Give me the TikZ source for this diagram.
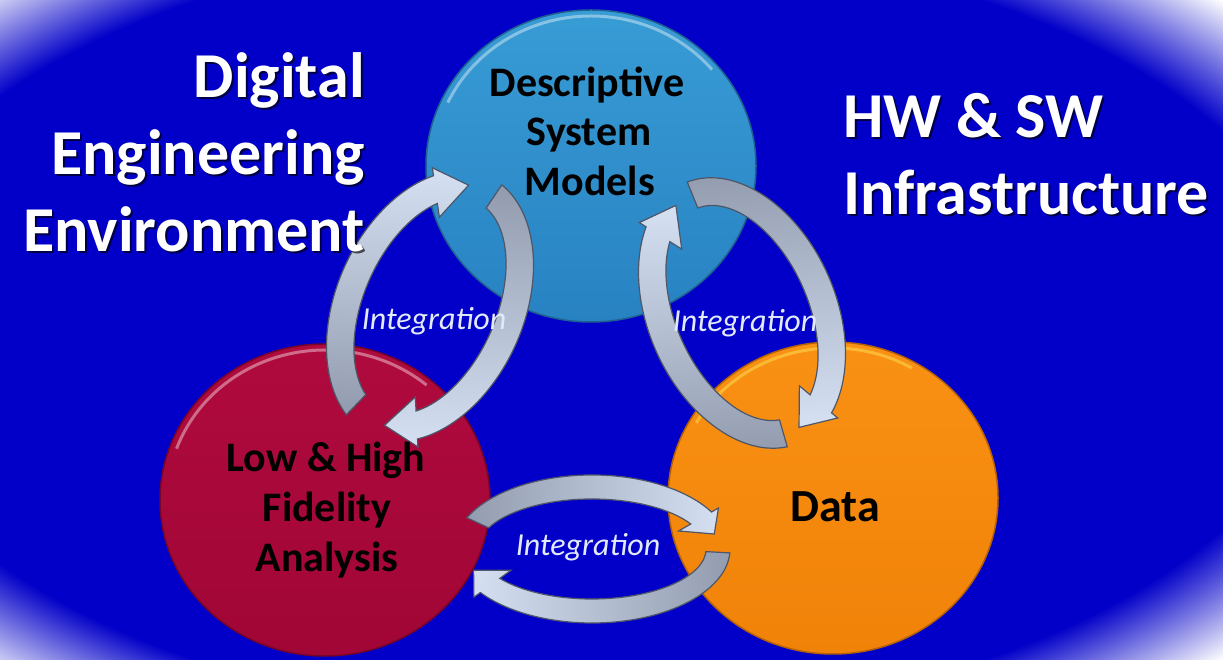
\documentclass[tikz,border=0pt]{standalone}
\usepackage{fontspec}
\setmainfont{Carlito}
\usetikzlibrary{shapes.geometric}
\definecolor{bgb}{RGB}{2,0,200}
\definecolor{cblueL}{RGB}{56,156,213}
\definecolor{cblueD}{RGB}{40,130,194}
\definecolor{credL}{RGB}{176,10,62}
\definecolor{credD}{RGB}{160,6,54}
\definecolor{corgL}{RGB}{249,145,20}
\definecolor{corgD}{RGB}{240,130,8}
\definecolor{arrlight}{RGB}{212,224,242}
\definecolor{arrdark}{RGB}{146,156,174}
\definecolor{arredge}{RGB}{78,86,104}
\definecolor{integ}{RGB}{226,234,250}
\pgfdeclareradialshading{vig}{\pgfpoint{0bp}{0bp}}{color(0bp)=(bgb); color(29bp)=(bgb); color(32bp)=(bgb!50!white); color(35bp)=(white); color(50bp)=(white)}
\def\aw{14}\def\hxo{8}\def\hxi{14}
\newcommand\carr[9]{%
 \pgfmathsetmacro\tb{#7+#8}%
 \pgfmathsetmacro\ao{#4+\aw}\pgfmathsetmacro\bo{#5+\aw}%
 \pgfmathsetmacro\ai{#4-\aw}\pgfmathsetmacro\bi{#5-\aw}%
 \pgfmathsetmacro\aho{#4+\aw+\hxo}\pgfmathsetmacro\bho{#5+\aw+\hxo}%
 \pgfmathsetmacro\ahi{#4-\aw-\hxi}\pgfmathsetmacro\bhi{#5-\aw-\hxi}%
 \begin{scope}[shift={(#1,#2)},rotate=#3]
 \draw[arrowline, top color=arrlight, bottom color=arrdark, shading angle=#9]
   ({\ao*cos(#6)},{\bo*sin(#6)}) arc[start angle=#6, end angle=\tb, x radius=\ao, y radius=\bo]
   -- ({\aho*cos(\tb)},{\bho*sin(\tb)}) -- ({#4*cos(#7)},{#5*sin(#7)})
   -- ({\ahi*cos(\tb)},{\bhi*sin(\tb)}) -- ({\ai*cos(\tb)},{\bi*sin(\tb)})
   arc[start angle=\tb, end angle=#6, x radius=\ai, y radius=\bi] -- cycle;
 \end{scope}}
\tikzset{
 arrowline/.style={draw=arredge, line width=1.2pt, line join=miter},
 circ/.style={ellipse, inner sep=0pt, minimum width=330pt, minimum height=312pt, line width=1.5pt},
 bigw/.style={font=\bfseries\fontsize{64}{77}\selectfont, text=white, inner sep=0pt},
 bigs/.style={font=\bfseries\fontsize{64}{77}\selectfont, text=black, opacity=0.65, inner sep=0pt},
 clab/.style={font=\bfseries\fontsize{42}{50}\selectfont, text=black, inner sep=0pt},
 intl/.style={font=\itshape\fontsize{32}{36}\selectfont, text=integ, inner sep=0pt},
 rim/.style={white, opacity=0.4, line width=3pt}
}
\begin{document}
\begin{tikzpicture}[x=1pt,y=1pt]
\useasboundingbox (0,0) rectangle (1223,660);
\fill[bgb] (0,0) rectangle (1223,660);
\fill[shading=vig] (-45,-6) rectangle (1223,666);
% circles
\node[circ, top color=cblueL, bottom color=cblueD, draw=cblueD!75!black] (dsm) at (591,494) {};
\node[circ, top color=credL, bottom color=credD, draw=credD!75!black] (lhf) at (325,160) {};
\node[circ, top color=corgL, bottom color=corgD, draw=corgD!75!black] (dat) at (833,162) {};
\draw[rim] ({591+158*cos(155)},{494+150*sin(155)}) arc[start angle=155, end angle=40, x radius=158, y radius=150];
\draw[rim] ({325+158*cos(160)},{160+150*sin(160)}) arc[start angle=160, end angle=50, x radius=158, y radius=150];
\draw[rim, yellow!60!white] ({833+158*cos(150)},{162+150*sin(150)}) arc[start angle=150, end angle=60, x radius=158, y radius=150];
% integration arrows: left loop
\carr{430}{354}{-24}{80}{128}{250}{100}{22}{-2}
\carr{430}{354}{-24}{80}{128}{80}{-85}{22}{178}
% right loop
\carr{742}{347}{24}{80}{128}{262}{102}{22}{3}
\carr{742}{347}{24}{80}{128}{88}{-86}{22}{-176}
% bottom loop
\def\aw{12}
\carr{592}{111}{0}{126}{62}{155}{14}{16}{-90}
\carr{592}{111}{0}{126}{62}{-3}{-160}{16}{90}
% texts
\node[bigs, anchor=base east] (t1s) at (367,560) {Digital};
\node[bigw, anchor=base east] (t1) at (365,562) {Digital};
\node[bigs, anchor=base east] (t2s) at (367,483) {Engineering};
\node[bigw, anchor=base east] (t2) at (365,485) {Engineering};
\node[bigs, anchor=base east] (t3s) at (367,406) {Environment};
\node[bigw, anchor=base east] (t3) at (365,408) {Environment};
\node[bigs, anchor=base west] (t4s) at (845,520) {HW \& SW};
\node[bigw, anchor=base west] (t4) at (843,522) {HW \& SW};
\node[bigs, anchor=base west] (t5s) at (845,443) {Infrastructure};
\node[bigw, anchor=base west] (t5) at (843,445) {Infrastructure};
\node[clab, anchor=base] (d1) at (587,563) {Descriptive};
\node[clab, anchor=base] (d2) at (589,514) {System};
\node[clab, anchor=base] (d3) at (590,464) {Models};
\node[clab, anchor=base] (l1) at (326,188) {Low \& High};
\node[clab, anchor=base] (l2) at (327,138) {Fidelity};
\node[clab, anchor=base] (l3) at (327,88) {Analysis};
\node[clab, anchor=base, font=\bfseries\fontsize{46}{50}\selectfont] (dd) at (835,138) {Data};
\node[intl, anchor=base] (i1) at (434,330) {Integration};
\node[intl, anchor=base] (i2) at (745,328) {Integration};
\node[intl, anchor=base] (i3) at (588,104) {Integration};
\end{tikzpicture}
\end{document}
